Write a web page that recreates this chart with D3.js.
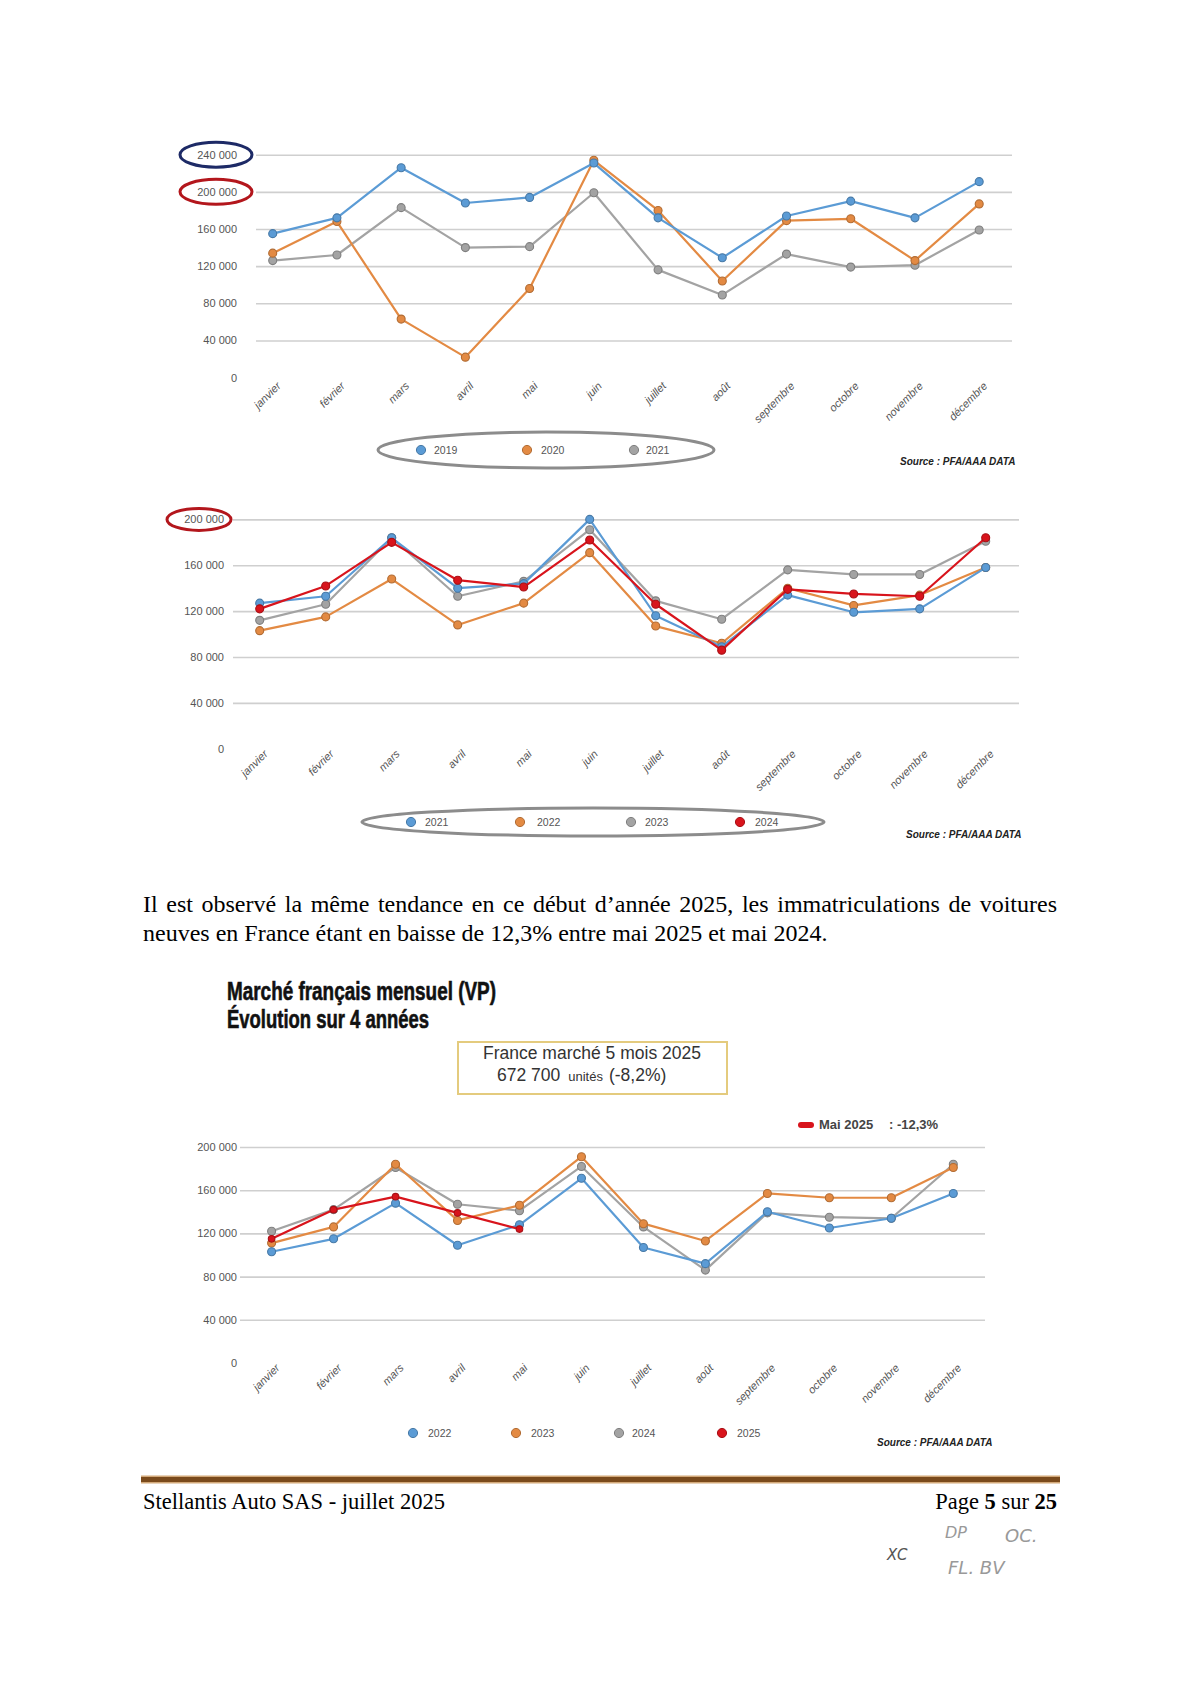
<!DOCTYPE html>
<html><head><meta charset="utf-8">
<script src="https://cdn.jsdelivr.net/npm/d3@7"></script>
<style>
html,body{margin:0;padding:0;background:#fff;}
svg{display:block;}
</style></head>
<body>
<svg id="page" width="1200" height="1696"></svg>
<script>
// ---------------- DATA ----------------
const months = ["janvier","février","mars","avril","mai","juin","juillet","août","septembre","octobre","novembre","décembre"];

// Chart 1 : 2019 / 2020 / 2021
const c1Years = ["2019","2020","2021"];
const c1_2019 = [155000,172000,226000,188000,194000,231000,172000,129000,174000,190000,172000,211000];
const c1_2020 = [134000,168000,63000,22000,96000,234000,180000,104000,169000,171000,126000,187000];
const c1_2021 = [126000,132000,183000,140000,141000,199000,116000,89000,133000,119000,121000,159000];
const c1Ticks = [0,40000,80000,120000,160000,200000,240000];

// Chart 2 : 2021 / 2022 / 2023 / 2024
const c2Years = ["2021","2022","2023","2024"];
const c2_2021 = [127000,133000,184000,140000,144000,200000,116000,89000,134000,119000,122000,158000];
const c2_2022 = [103000,115000,148000,108000,127000,171000,107000,92000,140000,125000,134000,158000];
const c2_2023 = [112000,126000,184000,133000,146000,191000,129000,113000,156000,152000,152000,181000];
const c2_2024 = [122000,142000,180000,147000,141000,182000,126000,86000,139000,135000,133000,184000];
const c2Ticks = [0,40000,80000,120000,160000,200000];

// Chart 3 : 2022 / 2023 / 2024 / 2025
const c3Years = ["2022","2023","2024","2025"];
const c3_2022 = [103000,115000,148000,109000,128000,171000,107000,92000,140000,125000,134000,157000];
const c3_2023 = [111000,126000,184000,132000,146000,191000,129000,113000,157000,153000,153000,181000];
const c3_2024 = [122000,142000,181000,147000,141000,182000,126000,86000,139000,135000,134000,184000];
const c3_2025 = [115000,142000,154000,139000,124000];
const c3Ticks = [0,40000,80000,120000,160000,200000];

// ---------------- STYLE ----------------
const BLUE="#5b9bd5", ORANGE="#e38a43", GRAY="#a3a3a3", RED="#d8141c";
const fr = d3.formatLocale({decimal:",",thousands:" ",grouping:[3],currency:["",""]});
const fmt = fr.format(",");
const svg = d3.select("#page");
const AX_FONT = "Liberation Sans, Arial, sans-serif";

function darker(c){ return d3.color(c).darker(0.7).formatHex(); }

function drawChart(cfg){
  const g = svg.append("g");
  const x = d3.scalePoint().domain(months).range([cfg.x0, cfg.x1]).padding(0);
  const y = d3.scaleLinear().domain([0, cfg.yMax]).range([cfg.yZero, cfg.yTop]);

  const yAxis = d3.axisLeft(y).tickValues(cfg.ticks).tickFormat(fmt)
      .tickSize(-(cfg.gx1 - cfg.gx0)).tickPadding(cfg.gx0 - cfg.labelRight);
  const ya = g.append("g").attr("transform", `translate(${cfg.gx0},0)`).call(yAxis);
  ya.select(".domain").remove();
  ya.selectAll(".tick line").attr("stroke", "#cfcfcf").attr("stroke-width", 1.6)
    .filter(d => d === 0).remove();
  ya.selectAll(".tick text").attr("fill", "#555").style("font-family", AX_FONT)
    .style("font-size", "11px");

  const xAxis = d3.axisBottom(x).tickSize(0).tickPadding(0);
  const xa = g.append("g").attr("transform", `translate(0,${cfg.xLabY})`).call(xAxis);
  xa.select(".domain").remove();
  xa.selectAll(".tick text")
    .attr("fill", "#555").style("font-family", AX_FONT).style("font-size", "11px")
    .style("font-style","italic")
    .attr("text-anchor", "end").attr("dy", "0.7em").attr("x", 4).attr("y", 0)
    .attr("transform", "rotate(-45)");

  const line = d3.line().x((d,i) => x(months[i])).y(d => y(d));
  cfg.series.forEach(s => {
    g.append("path").datum(s.values).attr("d", line)
      .attr("fill", "none").attr("stroke", s.color).attr("stroke-width", s.width || 2.2)
      .attr("stroke-linejoin", "round");
    g.selectAll(null).data(s.values).enter().append("circle")
      .attr("cx", (d,i) => x(months[i])).attr("cy", d => y(d))
      .attr("r", s.r || 4).attr("fill", s.color).attr("stroke", darker(s.color))
      .attr("stroke-width", 1.1);
  });

  cfg.legend.forEach(l => {
    g.append("circle").attr("cx", l.mx).attr("cy", cfg.legY).attr("r", 4.6)
      .attr("fill", l.color).attr("stroke", darker(l.color)).attr("stroke-width", 1);
    g.append("text").attr("x", l.tx).attr("y", cfg.legY).attr("dy", "0.35em")
      .attr("fill", "#555").style("font-family", AX_FONT).style("font-size", "10.5px")
      .text(l.name);
  });
  if (cfg.legEllipse) {
    const e = cfg.legEllipse;
    g.append("ellipse").attr("cx", e.cx).attr("cy", e.cy).attr("rx", e.rx).attr("ry", e.ry)
      .attr("fill", "none").attr("stroke", "#8c8c8c").attr("stroke-width", 3);
  }
  g.append("text").attr("x", cfg.srcX).attr("y", cfg.srcY)
    .attr("fill", "#222").style("font-family", "Liberation Sans Narrow, Arial Narrow, sans-serif")
    .style("font-size", "10px").style("font-style", "italic").style("font-weight", "bold")
    .text("Source : PFA/AAA DATA");
  return {g, x, y};
}

// ---------- Chart 1 ----------
const ch1 = drawChart({
  x0: 272.7, x1: 979.2, yMax: 240000, yZero: 377.6, yTop: 154.7,
  gx0: 256, gx1: 1012, labelRight: 237, ticks: c1Ticks, xLabY: 384,
  series: [
    {name:"2021", values:c1_2021, color:GRAY},
    {name:"2020", values:c1_2020, color:ORANGE},
    {name:"2019", values:c1_2019, color:BLUE}
  ],
  legend: [
    {name:c1Years[0], color:BLUE, mx:421, tx:434},
    {name:c1Years[1], color:ORANGE, mx:527, tx:541},
    {name:c1Years[2], color:GRAY, mx:634, tx:646}
  ],
  legY: 450, legEllipse: {cx:546, cy:450, rx:168, ry:18},
  srcX: 900, srcY: 465
});
ch1.g.append("ellipse").attr("cx",216).attr("cy",ch1.y(240000)).attr("rx",36).attr("ry",12.5)
  .attr("fill","none").attr("stroke","#1d2a66").attr("stroke-width",3);
ch1.g.append("ellipse").attr("cx",216).attr("cy",ch1.y(200000)).attr("rx",36).attr("ry",12.5)
  .attr("fill","none").attr("stroke","#b3161c").attr("stroke-width",3);

// ---------- Chart 2 ----------
const ch2 = drawChart({
  x0: 259.7, x1: 985.7, yMax: 200000, yZero: 748.8, yTop: 519.4,
  gx0: 233, gx1: 1019, labelRight: 224, ticks: c2Ticks, xLabY: 752,
  series: [
    {name:"2022", values:c2_2022, color:ORANGE},
    {name:"2023", values:c2_2023, color:GRAY},
    {name:"2021", values:c2_2021, color:BLUE},
    {name:"2024", values:c2_2024, color:RED}
  ],
  legend: [
    {name:c2Years[0], color:BLUE, mx:411, tx:425},
    {name:c2Years[1], color:ORANGE, mx:520, tx:537},
    {name:c2Years[2], color:GRAY, mx:631, tx:645},
    {name:c2Years[3], color:RED, mx:740, tx:755}
  ],
  legY: 822, legEllipse: {cx:593, cy:822, rx:231, ry:14},
  srcX: 906, srcY: 838
});
ch2.g.append("ellipse").attr("cx",199).attr("cy",ch2.y(200000)).attr("rx",32).attr("ry",11)
  .attr("fill","none").attr("stroke","#b3161c").attr("stroke-width",3);

// ---------- Paragraph ----------
const SERIF = "Liberation Serif, Times New Roman, serif";
const p1txt = "Il est observé la même tendance en ce début d’année 2025, les immatriculations de voitures";
const p1 = svg.append("text").attr("x",143).attr("y",912)
  .style("font-family",SERIF).style("font-size","24px").attr("fill","#000").text(p1txt);
const nat = p1.node().getComputedTextLength();
const nSp = p1txt.split(" ").length - 1;
p1.style("word-spacing", ((914 - nat) / nSp) + "px");
svg.append("text").attr("x",143).attr("y",941)
  .style("font-family",SERIF).style("font-size","24px").attr("fill","#000")
  .text("neuves en France étant en baisse de 12,3% entre mai 2025 et mai 2024.");

// ---------- Chart 3 title & box ----------
const NARROW = "Liberation Sans Narrow, Arial Narrow, sans-serif";
svg.append("text").attr("x",227).attr("y",1000).attr("textLength",269).attr("lengthAdjust","spacingAndGlyphs")
  .style("font-family",NARROW).style("font-weight","bold").style("font-size","25px").attr("fill","#111")
  .attr("stroke","#111").attr("stroke-width",0.6)
  .text("Marché français mensuel (VP)");
svg.append("text").attr("x",227).attr("y",1028).attr("textLength",202).attr("lengthAdjust","spacingAndGlyphs")
  .style("font-family",NARROW).style("font-weight","bold").style("font-size","25px").attr("fill","#111")
  .attr("stroke","#111").attr("stroke-width",0.6)
  .text("Évolution sur 4 années");

svg.append("rect").attr("x",458).attr("y",1042).attr("width",269).attr("height",52)
  .attr("fill","#fff").attr("stroke","#e4cb7e").attr("stroke-width",2);
svg.append("text").attr("x",592).attr("y",1059).attr("text-anchor","middle")
  .style("font-family",AX_FONT).style("font-size","17.5px").attr("fill","#333")
  .text("France marché 5 mois 2025");
const t2 = svg.append("text").attr("x",497).attr("y",1081)
  .style("font-family",AX_FONT).style("font-size","17.5px").attr("fill","#333");
t2.append("tspan").text("672 700");
t2.append("tspan").attr("dx",8).style("font-size","13px").text("unités");
t2.append("tspan").attr("dx",6).text("(-8,2%)");

// Mai 2025 note
svg.append("rect").attr("x",798).attr("y",1122).attr("width",16).attr("height",6).attr("rx",3)
  .attr("fill",RED);
svg.append("text").attr("x",819).attr("y",1129)
  .style("font-family",AX_FONT).style("font-weight","bold").style("font-size","13px").attr("fill","#444")
  .text("Mai 2025");
svg.append("text").attr("x",889).attr("y",1129)
  .style("font-family",AX_FONT).style("font-weight","bold").style("font-size","13px").attr("fill","#444")
  .text(": -12,3%");

// ---------- Chart 3 ----------
drawChart({
  x0: 271.6, x1: 953.3, yMax: 200000, yZero: 1363, yTop: 1147,
  gx0: 240, gx1: 985, labelRight: 237, ticks: c3Ticks, xLabY: 1366,
  series: [
    {name:"2024", values:c3_2024, color:GRAY},
    {name:"2023", values:c3_2023, color:ORANGE},
    {name:"2022", values:c3_2022, color:BLUE},
    {name:"2025", values:c3_2025, color:RED, r:3.3}
  ],
  legend: [
    {name:c3Years[0], color:BLUE, mx:413, tx:428},
    {name:c3Years[1], color:ORANGE, mx:516, tx:531},
    {name:c3Years[2], color:GRAY, mx:619, tx:632},
    {name:c3Years[3], color:RED, mx:722, tx:737}
  ],
  legY: 1433, legEllipse: null,
  srcX: 877, srcY: 1446
});

// ---------- Footer ----------
svg.append("rect").attr("x",141).attr("y",1475.5).attr("width",919).attr("height",1.5).attr("fill","#d2a878");
svg.append("rect").attr("x",141).attr("y",1477).attr("width",919).attr("height",5).attr("fill","#7a4a1c");
svg.append("rect").attr("x",141).attr("y",1482).attr("width",919).attr("height",1.5).attr("fill","#d2a878");
svg.append("text").attr("x",143).attr("y",1509)
  .style("font-family",SERIF).style("font-size","22.5px").attr("fill","#000")
  .text("Stellantis Auto SAS - juillet 2025");
const pg = svg.append("text").attr("x",1057).attr("y",1509).attr("text-anchor","end")
  .style("font-family",SERIF).style("font-size","22.5px").attr("fill","#000");
pg.append("tspan").text("Page ");
pg.append("tspan").style("font-weight","bold").text("5");
pg.append("tspan").text(" sur ");
pg.append("tspan").style("font-weight","bold").text("25");

// handwritten initials
const HAND = "DejaVu Sans, sans-serif";
[["XC",887,1560,"#555",15],["DP",945,1538,"#999",16],["OC.",1005,1542,"#999",18],["FL. BV",948,1574,"#999",18]]
  .forEach(([t,xx,yy,c,fs]) => {
    svg.append("text").attr("x",xx).attr("y",yy).style("font-family",HAND).style("font-style","italic")
      .style("font-weight","200").style("font-size",fs+"px").attr("fill",c).text(t);
  });
</script>
</body></html>
